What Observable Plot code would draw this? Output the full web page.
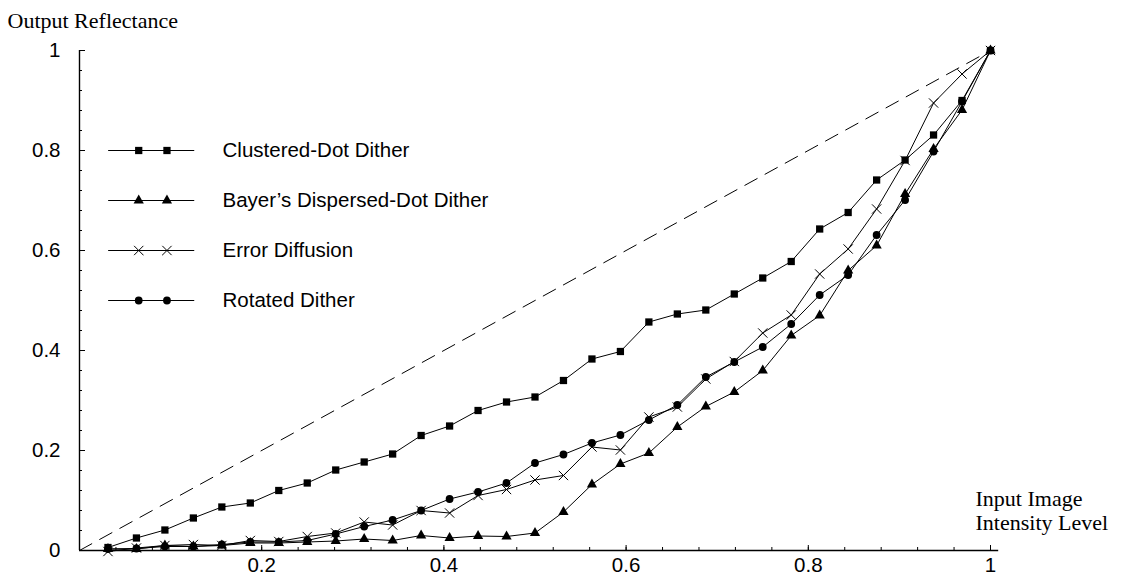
<!DOCTYPE html>
<html>
<head>
<meta charset="utf-8">
<script src="https://cdn.jsdelivr.net/npm/d3@7"></script>
<script src="https://cdn.jsdelivr.net/npm/@observablehq/plot@0.6"></script>
<style>
  html, body { margin: 0; padding: 0; background: #fff; }
  #chart { width: 1124px; height: 582px; }
</style>
</head>
<body>
<div id="chart"></div>
<script>
// ---- data ----
const levels = [1,2,3,4,5,6,7,8,9,10,11,12,13,14,15,16,17,18,19,20,21,22,23,24,25,26,27,28,29,30,31,32];
const levelCount = 32;
const seriesNames = ["Clustered-Dot Dither", "Bayer\u2019s Dispersed-Dot Dither", "Error Diffusion", "Rotated Dither"];
const seriesSymbols = ["square", "triangle", "times", "circle"];
const clustered = [0.006,0.025,0.041,0.065,0.087,0.095,0.12,0.135,0.161,0.177,0.193,0.23,0.249,0.28,0.297,0.307,0.34,0.383,0.398,0.457,0.473,0.481,0.513,0.545,0.578,0.643,0.676,0.741,0.781,0.831,0.9,1.0];
const bayer = [0.003,0.003,0.01,0.008,0.01,0.015,0.015,0.017,0.019,0.023,0.02,0.03,0.025,0.029,0.028,0.035,0.077,0.132,0.173,0.195,0.247,0.288,0.317,0.36,0.43,0.47,0.56,0.61,0.713,0.803,0.881,1.0];
const errorDiffusion = [-0.002,0.005,0.01,0.012,0.01,0.02,0.018,0.028,0.035,0.057,0.051,0.08,0.075,0.11,0.122,0.141,0.15,0.207,0.201,0.267,0.287,0.343,0.378,0.435,0.471,0.553,0.603,0.683,0.78,0.895,0.953,1.0];
const rotated = [0.003,0.004,0.008,0.008,0.012,0.017,0.017,0.02,0.033,0.048,0.061,0.08,0.103,0.117,0.135,0.175,0.192,0.215,0.231,0.261,0.291,0.347,0.377,0.407,0.453,0.511,0.551,0.631,0.701,0.798,0.898,1.0];
const seriesValues = [clustered, bayer, errorDiffusion, rotated];
const identityLine = [[0, 0], [1, 1]];
const xTickValues = [0.2, 0.4, 0.6, 0.8, 1];
const xTickLabels = ["0.2", "0.4", "0.6", "0.8", "1"];
const yTickValues = [0, 0.2, 0.4, 0.6, 0.8, 1];
const yTickLabels = ["0", "0.2", "0.4", "0.6", "0.8", "1"];
const yTitle = "Output Reflectance";
const xTitle = "Input Image\nIntensity Level";

// ---- table ----
const rows = [];
seriesValues.forEach((vals, s) => {
  levels.forEach((lv, i) => rows.push({series: seriesNames[s], symbol: seriesSymbols[s], x: lv / levelCount, y: vals[i]}));
});

// ---- legend layout (in data units of the frame) ----
const legendRows = seriesNames.map((name, s) => ({name, symbol: seriesSymbols[s], y: 0.8 - 0.1 * s}));
const legLineX1 = 0.032, legLineX2 = 0.1265, legMark1 = 0.065, legMark2 = 0.096, legTextX = 0.157;
const legendMarks = [];
legendRows.forEach(r => legendMarks.push({...r, x: legMark1}, {...r, x: legMark2}));

const sans = "'Liberation Sans', Arial, Helvetica, sans-serif";
const serif = "'Liberation Serif', 'Times New Roman', serif";
const minorTicks = d3.range(0, 26).map(i => +(i * 0.04).toFixed(2));

const fmt = (vals, labels) => d => { const k = vals.findIndex(v => Math.abs(v - d) < 1e-9); return k >= 0 ? labels[k] : ""; };

// marker styles per symbol (constant radii, not scaled)
const markerStyle = {
  square:   {r: 4.1, fill: "#000", stroke: "none"},
  triangle: {r: 3.8, fill: "#000", stroke: "none"},
  times:    {r: 4.3, fill: "none", stroke: "#000", strokeWidth: 1},
  circle:   {r: 3.9, fill: "#000", stroke: "none"}
};
const markerMarks = (data) => seriesSymbols.map(sym =>
  Plot.dot(data.filter(d => d.symbol === sym), {x: "x", y: "y", symbol: () => sym, ...markerStyle[sym]})
);

const chart = Plot.plot({
  width: 1124,
  height: 582,
  marginLeft: 79,
  marginRight: 134,
  marginTop: 50,
  marginBottom: 32,
  style: {fontFamily: sans, fontSize: "20px", color: "#000", background: "#fff", overflow: "visible"},
  x: {domain: [0, 1]},
  y: {domain: [0, 1]},
  symbol: {domain: seriesSymbols, range: seriesSymbols},
  marks: [
    // minor ticks
    Plot.axisY(minorTicks, {tickSize: -3, tickFormat: () => "", label: null, stroke: "#000"}),
    Plot.axisX(minorTicks.filter(d => d <= 1), {tickSize: -3, tickFormat: () => "", label: null, stroke: "#000"}),
    // major ticks + labels
    Plot.axisY(yTickValues, {tickSize: -6, tickPadding: 25, tickFormat: fmt(yTickValues, yTickLabels), label: null, stroke: "#000", fontSize: 20.5}),
    Plot.axisX(xTickValues, {tickSize: -5, tickPadding: 12, tickFormat: fmt(xTickValues, xTickLabels), label: null, stroke: "#000", fontSize: 20.5}),
    // axis lines
    Plot.ruleX([0], {y1: 0, y2: 1, stroke: "#000", strokeWidth: 1.4}),
    Plot.ruleY([0], {x1: 0, x2: 1.009, stroke: "#000", strokeWidth: 1.4}),
    // identity dashed line
    Plot.line(identityLine, {x: d => d[0], y: d => d[1], stroke: "#000", strokeWidth: 1, strokeDasharray: "14,9"}),
    // series
    Plot.line(rows, {x: "x", y: "y", z: "series", stroke: "#000", strokeWidth: 1}),
    ...markerMarks(rows),
    // legend
    Plot.ruleY(legendRows, {y: "y", x1: legLineX1, x2: legLineX2, stroke: "#000", strokeWidth: 1}),
    ...markerMarks(legendMarks),
    Plot.text(legendRows, {x: () => legTextX, y: "y", text: "name", textAnchor: "start", fontSize: 20.5, fontFamily: sans, fill: "#000"}),
    // titles
    Plot.text([yTitle], {frameAnchor: "top-left", dx: -72, dy: -30, textAnchor: "start", lineAnchor: "middle", fontFamily: serif, fontSize: 22, fill: "#000"}),
    Plot.text([xTitle], {frameAnchor: "bottom-right", dx: -15, dy: -40, textAnchor: "start", lineAnchor: "middle", lineHeight: 1.1, fontFamily: serif, fontSize: 22, fill: "#000"})
  ]
});
document.getElementById("chart").appendChild(chart);
</script>
</body>
</html>
